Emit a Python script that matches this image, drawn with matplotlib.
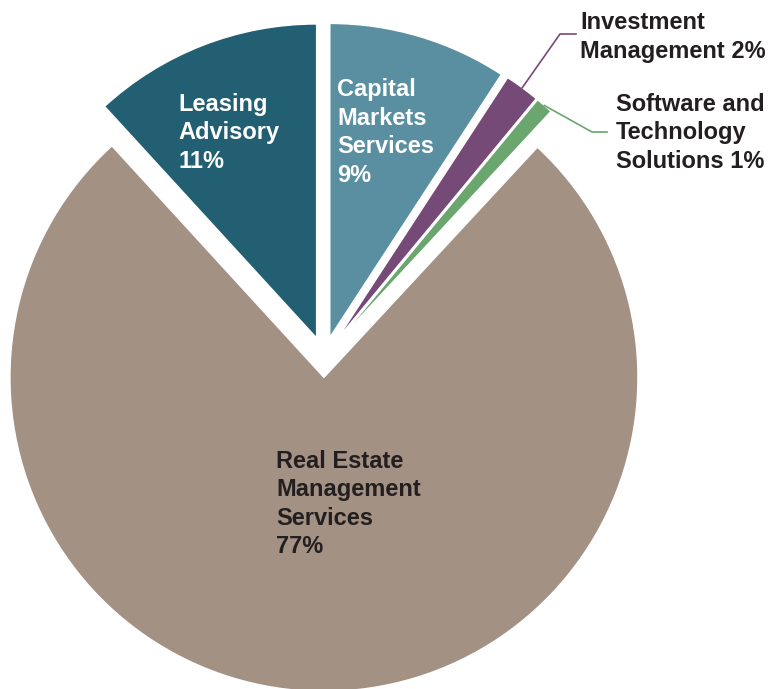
import numpy as np
import matplotlib.pyplot as plt

# segment shares (percent), clockwise from 12 o'clock
segments = ["Capital Markets Services", "Investment Management",
            "Software and Technology Solutions",
            "Real Estate Management Services", "Leasing Advisory"]
shares = [9.2, 1.8, 0.9, 76.3, 11.8]
labels = ["Capital\nMarkets\nServices\n9%", "Investment\nManagement 2%",
          "Software and\nTechnology\nSolutions 1%",
          "Real Estate\nManagement\nServices\n77%", "Leasing\nAdvisory\n11%"]
colors = ["#598FA0", "#754A76", "#6AA66E", "#A39184", "#225F72"]

plt.rcParams['font.family'] = ['Liberation Sans', 'DejaVu Sans']

fig = plt.figure(figsize=(7.7, 6.89), dpi=100)
ax = fig.add_axes([0, 0, 1, 1])

expl = 0.065
wedges, _ = ax.pie(shares, colors=colors, startangle=90, counterclock=False,
                   explode=[expl] * len(shares), radius=1.0,
                   wedgeprops=dict(edgecolor="white", linewidth=1))

# pixel layout -> data coords (center at px 324,357, radius 314 px)
def px(x, y):
    return (x - 324) / 314.0, (357 - y) / 314.0

ax.set_xlim(px(0, 0)[0], px(770, 0)[0])
ax.set_ylim(px(0, 689)[1], px(0, 0)[1])
ax.set_aspect("equal")
ax.axis("off")

fs = 17
ls = 1.3
dark = "#231F20"
inside = {0: (px(337, 132.5), "white"), 3: (px(276, 504), dark),
          4: (px(178, 133), "white")}
for i, ((x, y), c) in inside.items():
    ax.text(x, y, labels[i], color=c, fontsize=fs, fontweight="bold",
            ha="left", va="center", linespacing=ls)

# outside labels with leader lines
outside = {1: (px(560, 34), px(576, 34), px(580, 37)),
           2: (px(592, 132), px(607, 132), px(616, 133))}
for i, (elbow, end, tpos) in outside.items():
    w = wedges[i]
    ang = np.deg2rad((w.theta1 + w.theta2) / 2)
    r = 1.0 + expl
    sx, sy = r * np.cos(ang), r * np.sin(ang)
    ax.plot([sx, elbow[0], end[0]], [sy, elbow[1], end[1]],
            color=colors[i], linewidth=1.2)
    ax.text(tpos[0], tpos[1], labels[i], color=dark, fontsize=fs,
            fontweight="bold", ha="left", va="center", linespacing=ls)

fig.savefig("out.png", dpi=100)
